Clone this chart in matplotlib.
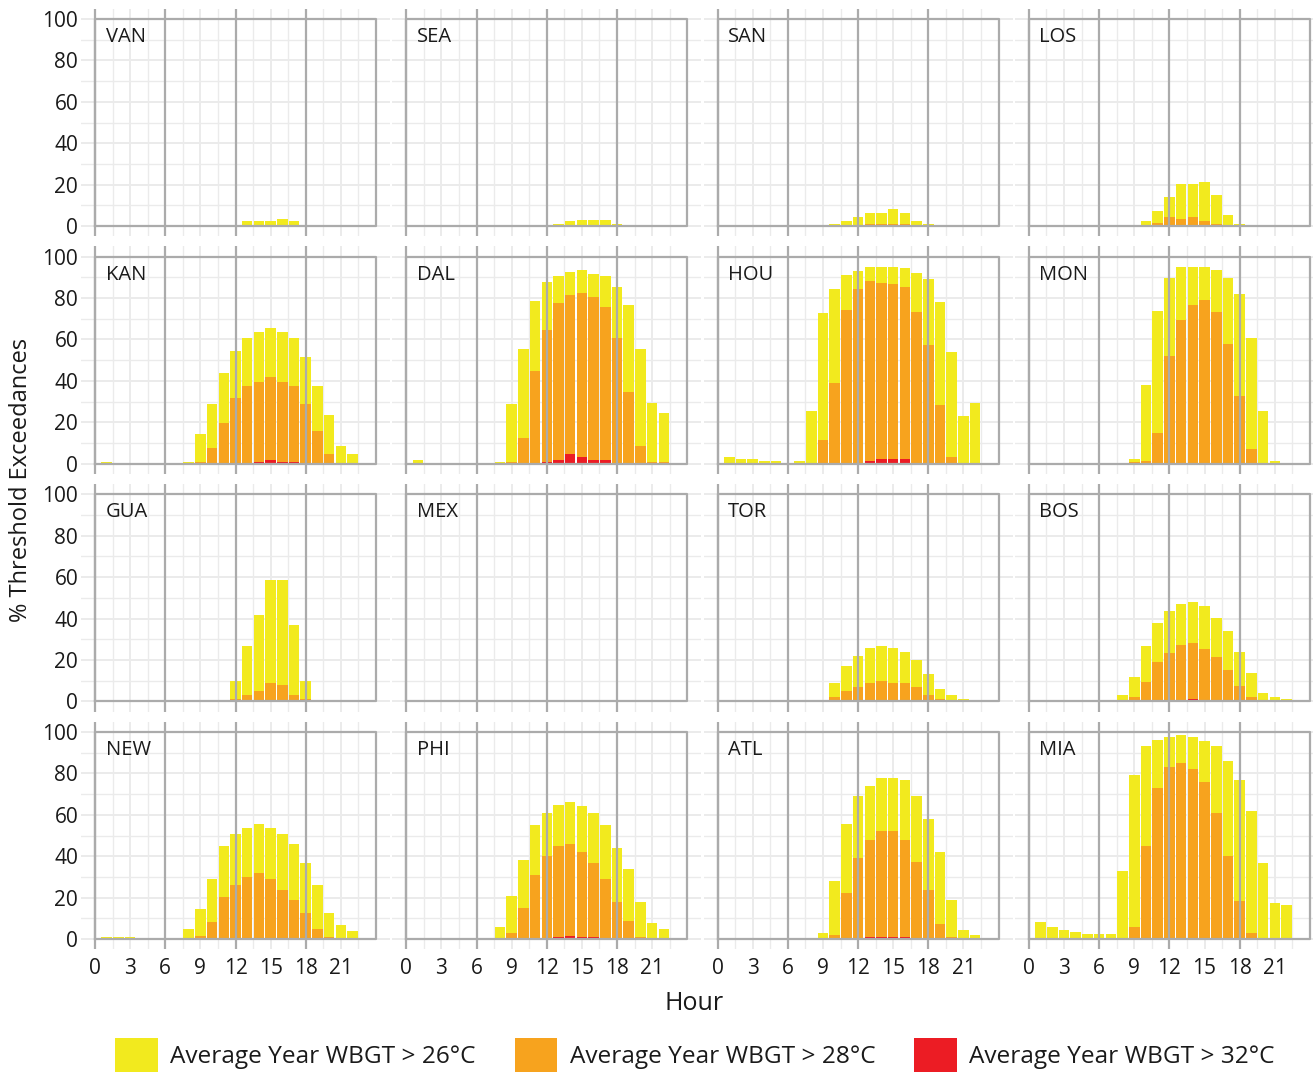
import numpy as np
import matplotlib
matplotlib.use("Agg")
import matplotlib.pyplot as plt
from matplotlib.patches import Patch

plt.rcParams['font.family'] = ['Open Sans', 'DejaVu Sans']

# Hours shown as bars (1..22)
hours = np.arange(1, 23)

stations = ["VAN", "SEA", "SAN", "LOS",
            "KAN", "DAL", "HOU", "MON",
            "GUA", "MEX", "TOR", "BOS",
            "NEW", "PHI", "ATL", "MIA"]

series_labels = ["Average Year WBGT > 26°C",
                 "Average Year WBGT > 28°C",
                 "Average Year WBGT > 32°C"]

# % of hours exceeding each threshold, hour 1..22
van_26 = [0, 0, 0, 0, 0, 0, 0, 0, 0, 0.3, 0.4, 0.5, 2.3, 2.3, 2.3, 3.2, 2.3, 0.5, 0.3, 0, 0, 0]
van_28 = [0]*22
van_32 = [0]*22

sea_26 = [0, 0, 0, 0, 0, 0, 0, 0, 0, 0, 0, 0.5, 1.2, 2.3, 3.0, 3.0, 3.0, 0.8, 0.5, 0, 0, 0]
sea_28 = [0]*22
sea_32 = [0]*22

san_26 = [0, 0, 0, 0, 0, 0, 0, 0, 0, 1.1, 2.4, 4.4, 6.3, 6.3, 8.2, 6.3, 2.4, 1.1, 0, 0, 0, 0]
san_28 = [0, 0, 0, 0, 0, 0, 0, 0, 0, 0, 0, 0.5, 1, 1, 1, 1, 0.3, 0, 0, 0, 0, 0]
san_32 = [0]*22

los_26 = [0, 0, 0, 0, 0, 0, 0, 0, 0, 2.3, 7.1, 13.9, 20.3, 20.3, 21.3, 14.8, 5.2, 1.1, 0, 0, 0, 0]
los_28 = [0, 0, 0, 0, 0, 0, 0, 0, 0, 0, 1.5, 4.2, 3.2, 4.2, 2.3, 0.8, 0, 0, 0, 0, 0, 0]
los_32 = [0]*22

kan_26 = [0.8, 0, 0, 0, 0, 0, 0, 0.8, 14.2, 29, 43.9, 54.5, 60.6, 63.7, 65.5, 63.7, 60.6, 51.6, 37.6, 23.5, 8.5, 4.8]
kan_28 = [0, 0, 0, 0, 0, 0, 0, 0, 0.8, 7.7, 19.8, 31.9, 37.7, 39.7, 41.9, 39.7, 37.7, 29, 15.8, 4.8, 0, 0]
kan_32 = [0, 0, 0, 0, 0, 0, 0, 0, 0, 0, 0, 0, 0, 1, 1.8, 1, 1, 0, 0, 0, 0, 0]

dal_26 = [1.6, 0, 0, 0, 0, 0, 0, 0.8, 28.7, 55.3, 78.7, 87.6, 90.8, 92.4, 93.5, 91.6, 90.8, 85.5, 76.8, 55.3, 29.5, 24.4]
dal_28 = [0, 0, 0, 0, 0, 0, 0, 0, 0.8, 12.6, 44.8, 64.5, 77.6, 81.6, 82.7, 80.6, 75.8, 60.6, 34.7, 8.5, 0.8, 0.8]
dal_32 = [0, 0, 0, 0, 0, 0, 0, 0, 0, 0, 0, 0.8, 1.6, 4.5, 3.4, 1.6, 1.6, 0, 0, 0, 0, 0]

hou_26 = [3.2, 2.3, 2.3, 1.3, 1.3, 0.5, 1.3, 25.5, 72.6, 84.2, 91.3, 93.2, 95.2, 95.2, 95.2, 94.4, 92.3, 89.4, 78.2, 54.2, 23.2, 29.4]
hou_28 = [0, 0, 0, 0, 0, 0, 0, 0, 11.3, 39.2, 74.4, 84.2, 88.4, 87.4, 86.6, 85.2, 73.5, 57.4, 28.4, 3.2, 0, 0]
hou_32 = [0, 0, 0, 0, 0, 0, 0, 0, 0, 0, 0, 0.3, 1.3, 2.4, 2.4, 2.4, 0.3, 0, 0, 0, 0, 0]

mon_26 = [0, 0, 0, 0, 0, 0, 0, 0, 2.4, 37.9, 74, 89.8, 94.8, 94.8, 94.8, 93.8, 89.8, 81.8, 60.7, 25.5, 1.3, 0.5]
mon_28 = [0, 0, 0, 0, 0, 0, 0, 0, 0.8, 1.3, 14.6, 52, 69.6, 76.7, 78.9, 73.2, 57.7, 32.5, 7.3, 0.5, 0, 0]
mon_32 = [0]*22

gua_26 = [0, 0, 0, 0, 0, 0, 0, 0, 0, 0, 0, 10, 26.9, 41.9, 58.7, 58.7, 36.9, 10, 0, 0, 0, 0]
gua_28 = [0, 0, 0, 0, 0, 0, 0, 0, 0, 0, 0, 1.1, 3.1, 4.8, 9, 7.9, 3.1, 1.1, 0, 0, 0, 0]
gua_32 = [0]*22

mex_26 = [0]*22
mex_28 = [0]*22
mex_32 = [0]*22

tor_26 = [0, 0, 0, 0, 0, 0, 0, 0, 0.5, 9, 17, 22, 26, 27, 26, 24, 20, 13, 6, 3, 1, 0]
tor_28 = [0, 0, 0, 0, 0, 0, 0, 0, 0, 2, 5, 7, 9, 10, 9, 9, 7, 3, 1, 0, 0, 0]
tor_32 = [0]*22

bos_26 = [0, 0, 0, 0, 0, 0, 0, 3.2, 11.9, 26.9, 37.9, 43.9, 47.1, 48.1, 46.1, 40.2, 34.2, 24, 13.9, 4.2, 2.3, 1.1]
bos_28 = [0, 0, 0, 0, 0, 0, 0, 0, 2.3, 9.2, 19.2, 23.2, 27.1, 28.1, 25.2, 21.3, 15.3, 7.3, 2.3, 0, 0, 0]
bos_32 = [0, 0, 0, 0, 0, 0, 0, 0, 0, 0, 0, 0, 0, 1.1, 0, 0, 0, 0, 0, 0, 0, 0]

new_26 = [0.8, 0.8, 0.8, 0, 0, 0, 0, 4.9, 14.6, 28.8, 44.8, 51, 53.9, 55.8, 53.9, 51, 45.8, 36.9, 25.9, 12.8, 7, 4]
new_28 = [0, 0, 0, 0, 0, 0, 0, 0, 1.6, 8.1, 20.1, 25.9, 29.9, 31.9, 29, 23.9, 19.1, 12.8, 5, 0.8, 0, 0]
new_32 = [0]*22

phi_26 = [0.5, 0, 0, 0, 0, 0, 0, 6, 21, 38, 55, 61, 65, 66.2, 64.2, 61, 55, 43.9, 34, 17.8, 7.9, 4.9]
phi_28 = [0, 0, 0, 0, 0, 0, 0, 0, 2.8, 14.9, 31.1, 40, 45, 46, 41.9, 36.9, 28.8, 17.8, 8.9, 0.8, 0, 0]
phi_32 = [0, 0, 0, 0, 0, 0, 0, 0, 0, 0, 0, 0.5, 0.8, 1.6, 0.8, 0.8, 0, 0, 0, 0, 0, 0]

atl_26 = [0, 0, 0, 0, 0, 0, 0, 0, 3.1, 28, 55.8, 69.1, 74, 77.8, 77.8, 76.9, 69.1, 57.8, 41.9, 19.1, 4.4, 2.1]
atl_28 = [0, 0, 0, 0, 0, 0, 0, 0, 0, 2.1, 22.2, 39.2, 48.1, 52.1, 52.1, 48.1, 37.2, 23.9, 7.3, 1.1, 0, 0]
atl_32 = [0, 0, 0, 0, 0, 0, 0, 0, 0, 0, 0, 0, 0.8, 0.8, 0.8, 0.8, 0, 0, 0, 0, 0, 0]

mia_26 = [8.4, 5.7, 4.5, 3.6, 2.4, 2.4, 2.4, 32.7, 79.4, 93.5, 96.4, 97.6, 98.4, 97.6, 95.5, 93.5, 86, 77, 62, 37, 17.5, 16.7]
mia_28 = [0, 0, 0, 0, 0, 0, 0, 0, 5.7, 44.9, 73, 83, 85, 82, 76, 61, 40, 18.6, 2.8, 0, 0, 0]
mia_32 = [0]*22

data = [
    (van_26, van_28, van_32), (sea_26, sea_28, sea_32), (san_26, san_28, san_32), (los_26, los_28, los_32),
    (kan_26, kan_28, kan_32), (dal_26, dal_28, dal_32), (hou_26, hou_28, hou_32), (mon_26, mon_28, mon_32),
    (gua_26, gua_28, gua_32), (mex_26, mex_28, mex_32), (tor_26, tor_28, tor_32), (bos_26, bos_28, bos_32),
    (new_26, new_28, new_32), (phi_26, phi_28, phi_32), (atl_26, atl_28, atl_32), (mia_26, mia_28, mia_32),
]

colors = ["#F2EA1E", "#F7A31E", "#EC1C24"]
grid_light = "#EBEBEB"
line_dark = "#ABABAB"
text_col = "#1A1A1A"

# Layout (pixels)
W, H = 1313, 1072
px_hr = 281/24.0
px_val = 207/100.0
xlo, xhi = -1.2, 25.2
ylo, yhi = -5, 105

fig = plt.figure(figsize=(W/100, H/100), dpi=100)

for i, name in enumerate(stations):
    r, c = divmod(i, 4)
    frame_left = 95 + 311.3*c
    frame_top = 19 + 237.7*r
    left = frame_left + xlo*px_hr
    top = frame_top - (yhi - 100)*px_val
    w = (xhi - xlo)*px_hr
    h = (yhi - ylo)*px_val
    ax = fig.add_axes([left/W, 1 - (top + h)/H, w/W, h/H])
    ax.set_xlim(xlo, xhi)
    ax.set_ylim(ylo, yhi)
    for s in ax.spines.values():
        s.set_visible(False)

    # grid
    ax.set_xticks(np.arange(0, 22, 3))
    ax.set_xticks(np.arange(1.5, 23, 3), minor=True)
    ax.set_yticks(np.arange(0, 101, 20))
    ax.set_yticks(np.arange(10, 100, 20), minor=True)
    ax.grid(True, which='major', color=grid_light, lw=1.4)
    ax.grid(True, which='minor', color=grid_light, lw=1.0)
    ax.set_axisbelow(True)
    ax.tick_params(which='both', length=0, labelsize=15, labelcolor=text_col)
    ax.tick_params(axis='y', pad=2.0)
    ax.tick_params(axis='x', pad=6)
    if c != 0:
        ax.set_yticklabels([])
    if r != 3:
        ax.set_xticklabels([])

    # bars (overlaid)
    for vals, col in zip(data[i], colors):
        ax.bar(hours, vals, width=0.9, color=col, zorder=2, linewidth=0)

    # reference lines and frame
    for xv in [0, 6, 12, 18]:
        ax.axvline(xv, color=line_dark, lw=1.6, zorder=3)
    ax.plot([0, 24, 24, 0, 0], [0, 0, 100, 100, 0], color=line_dark, lw=1.6, zorder=3)

    ax.text(0.9, 91.3, name, fontsize=14.5, color=text_col, ha='left', va='center', zorder=4)

fig.text(21/W, 1 - 480/H, "% Threshold Exceedances", rotation=90, fontsize=17,
         color=text_col, ha='center', va='center')
fig.text(694/W, 1 - 1004/H, "Hour", fontsize=18, color=text_col, ha='center', va='center')

handles = [Patch(facecolor=col, edgecolor='none') for col in colors]
fig.legend(handles, series_labels, loc='center', bbox_to_anchor=(695/W, 1 - 1055/H),
           ncol=3, frameon=False, fontsize=17.6, handlelength=1.75, handleheight=1.75,
           handletextpad=0.5, columnspacing=1.6, labelcolor=text_col, borderpad=0)

fig.savefig("out.png", dpi=100)
